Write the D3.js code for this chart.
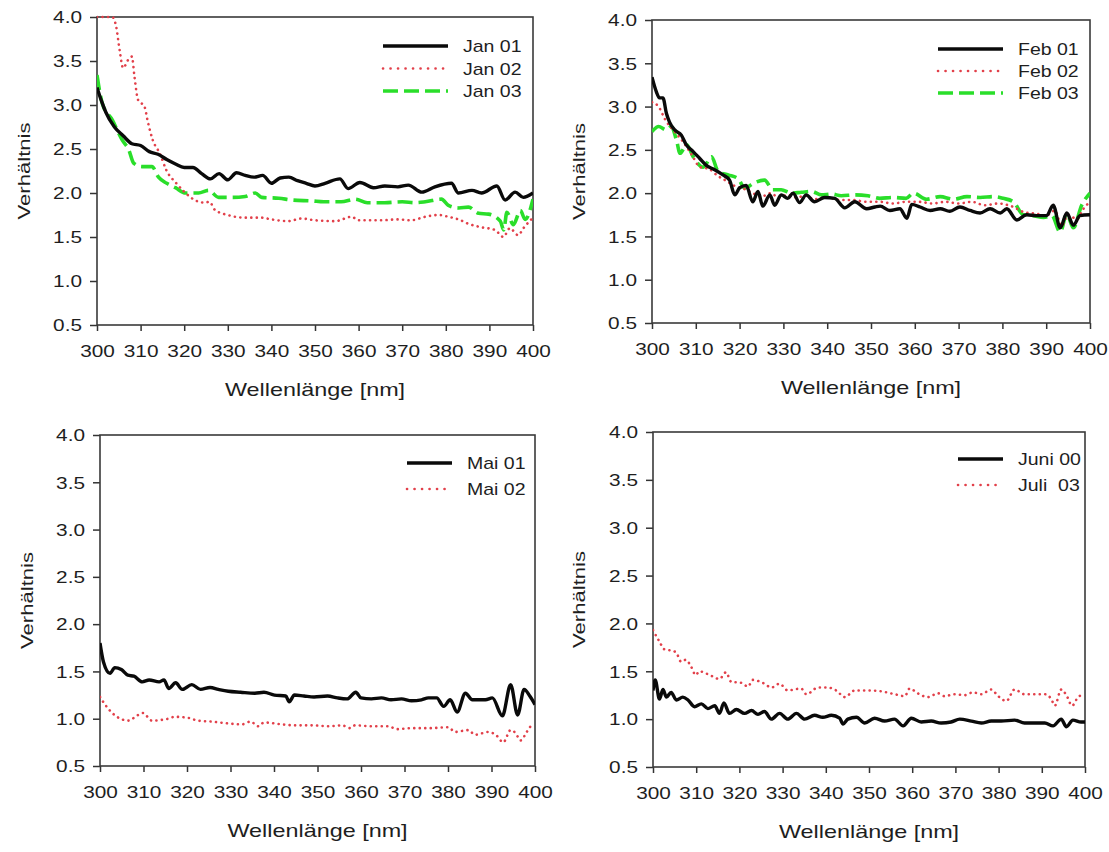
<!DOCTYPE html>
<html>
<head>
<meta charset="utf-8">
<script src="https://cdn.jsdelivr.net/npm/d3@7"></script>
<style>
  body { margin: 0; background: #fff; }
  text { font-family: "Liberation Sans", Arial, sans-serif; fill: #1e1e1e; }
</style>
</head>
<body>
<svg id="chart" width="1109" height="852"></svg>
<script>
// Axis ticks shared by all four panels
const wavelengthTicks = [300, 310, 320, 330, 340, 350, 360, 370, 380, 390, 400];
const ratioTicks = [0.5, 1.0, 1.5, 2.0, 2.5, 3.0, 3.5, 4.0];
const xTitle = "Wellenlänge [nm]";
const yTitle = "Verhältnis";

// Ratio spectra, [wavelength nm, ratio]
const jan01 = [[300,3.2],[301,3.05],[302,2.92],[304,2.75],[306,2.65],[308,2.56],[310,2.54],[312,2.47],[314,2.44],[316,2.38],[318,2.33],[320,2.29],[322,2.29],[324,2.22],[326,2.16],[328,2.22],[330,2.15],[332,2.23],[334,2.2],[336,2.18],[338,2.2],[340,2.11],[342,2.17],[344,2.18],[346,2.14],[348,2.11],[350,2.08],[352.3,2.11],[355.7,2.16],[357.6,2.05],[360.3,2.12],[363.4,2.06],[366,2.08],[369,2.07],[371.4,2.09],[374.5,2.01],[377.5,2.07],[381.3,2.11],[382.9,2.0],[386,2.03],[388.2,2.0],[391.7,2.08],[393.6,1.92],[395.9,2.01],[397.8,1.95],[400,2.0]];
const jan02 = [[300,4.0],[303.5,4.0],[304.4,3.89],[305.2,3.62],[306,3.42],[307.1,3.51],[308,3.55],[308.6,3.32],[309.4,3.06],[310.9,2.98],[311.7,2.8],[312.8,2.6],[314.4,2.45],[315.9,2.26],[318.2,2.11],[320.1,2.01],[322.4,1.92],[324.7,1.89],[325.8,1.9],[327,1.81],[330,1.75],[333.9,1.72],[337.7,1.72],[340,1.7],[343.8,1.68],[346.9,1.71],[350,1.69],[354.6,1.68],[358.4,1.73],[360,1.69],[365.2,1.69],[369,1.7],[372,1.69],[375.3,1.73],[378.3,1.75],[380.6,1.73],[382.9,1.7],[385.2,1.65],[388.2,1.61],[391.3,1.58],[393.2,1.5],[394.7,1.6],[396.6,1.52],[397.8,1.6],[400,1.72]];
const jan03 = [[300,3.34],[301.2,3.02],[303.5,2.83],[305.8,2.6],[307.3,2.49],[308.4,2.34],[310.3,2.3],[312.6,2.3],[314.1,2.18],[316,2.11],[318,2.06],[320.3,2.0],[323.3,2.0],[325.6,2.03],[327.9,1.95],[331,1.95],[334,1.96],[336.3,2.0],[337.8,1.95],[341.7,1.94],[344.8,1.92],[349.3,1.91],[352,1.9],[356,1.9],[359.2,1.93],[362,1.89],[366,1.89],[370,1.9],[373,1.89],[375.3,1.9],[379,1.93],[380.6,1.86],[383,1.83],[385.2,1.84],[387.5,1.77],[389.8,1.76],[392.5,1.68],[393.3,1.58],[394,1.78],[395.5,1.64],[397.1,1.8],[398.2,1.7],[400,1.93]];

const feb01 = [[300,3.34],[301,3.17],[301.7,3.1],[302.5,3.1],[303.3,2.92],[304,2.82],[305.2,2.73],[306.7,2.67],[307.8,2.56],[309.4,2.48],[310.9,2.4],[312.4,2.32],[314.3,2.27],[316.2,2.21],[317.7,2.15],[318.9,1.98],[320,2.06],[321.5,2.09],[323,1.9],[324.2,2.02],[325.3,1.85],[326.9,1.98],[328,1.86],[329.5,1.98],[331,1.94],[332.2,2.0],[333.7,1.89],[335.2,1.98],[337.1,1.9],[339.4,1.95],[341.7,1.94],[344,1.83],[346.3,1.9],[349,1.82],[350.9,1.84],[352.1,1.85],[354.3,1.8],[356.6,1.82],[358.2,1.71],[359.3,1.87],[361.2,1.84],[363.5,1.8],[365.8,1.82],[368,1.79],[370.3,1.84],[372.6,1.8],[374.9,1.77],[377.2,1.82],[379.5,1.77],[381,1.82],[383.3,1.69],[385.5,1.75],[387.8,1.74],[390.1,1.74],[391.6,1.86],[393.2,1.6],[394.7,1.77],[396.2,1.63],[397.7,1.74],[400,1.75]];
const feb02 = [[300,3.05],[301.5,3.0],[303,2.85],[305,2.72],[307,2.6],[309,2.45],[311,2.3],[313,2.28],[315,2.2],[317,2.14],[319,2.08],[321,2.05],[323,2.0],[325,1.96],[327,2.0],[329,1.95],[331,1.98],[333,1.95],[335,1.97],[337,1.93],[340,1.95],[343,1.92],[346,1.92],[349,1.9],[352,1.9],[355,1.88],[358,1.9],[361,1.9],[364,1.88],[367,1.9],[370,1.88],[373,1.9],[376,1.86],[379,1.88],[382,1.85],[385,1.78],[388,1.76],[390,1.74],[392,1.8],[393.5,1.62],[395,1.75],[397,1.7],[398.5,1.82],[400,1.9]];
const feb03 = [[300,2.71],[301.5,2.77],[303.3,2.73],[304.4,2.77],[305.6,2.61],[306.4,2.46],[307.9,2.56],[309.4,2.42],[311.7,2.3],[313.6,2.42],[315.1,2.25],[317.4,2.21],[319.6,2.17],[321.2,2.06],[323.4,2.12],[325.7,2.15],[327.6,2.04],[329.5,2.04],[331.8,2.0],[334.1,2.01],[336.4,2.02],[338.7,1.98],[341,1.99],[343.2,1.97],[346.3,1.98],[349.3,1.97],[352,1.94],[355,1.95],[358,1.94],[359.7,2.0],[362.7,1.93],[365.8,1.96],[368.8,1.93],[371.9,1.96],[374.9,1.95],[378,1.96],[380.2,1.94],[382.5,1.9],[384.8,1.75],[387,1.74],[389.4,1.72],[391.3,1.74],[393.2,1.55],[394.7,1.76],[396.2,1.6],[398.1,1.86],[400,2.0]];

const mai01 = [[300,1.8],[300.8,1.6],[302.3,1.48],[303.4,1.54],[304.9,1.52],[306.4,1.46],[307.8,1.45],[309.7,1.39],[311.3,1.41],[313.6,1.39],[314.7,1.41],[315.8,1.32],[317.4,1.38],[318.9,1.31],[321.1,1.36],[323.1,1.31],[325.3,1.33],[327.2,1.31],[329.5,1.29],[332.3,1.28],[335.6,1.27],[337.7,1.28],[340.1,1.25],[342.7,1.24],[343.5,1.18],[344.7,1.25],[346.9,1.24],[349.2,1.23],[352.3,1.24],[354.6,1.22],[356.8,1.21],[358.8,1.28],[360,1.22],[362.4,1.21],[364.7,1.22],[366.9,1.2],[369.3,1.21],[371.6,1.19],[373.9,1.2],[375.5,1.22],[377.4,1.22],[379,1.13],[380.5,1.2],[382.1,1.07],[384,1.27],[385.6,1.2],[388.6,1.2],[390.2,1.22],[392.5,1.03],[394.4,1.36],[396,1.04],[397.5,1.31],[398.8,1.24],[400,1.15]];
const mai02 = [[300,1.23],[302,1.1],[303.9,1.02],[306.6,0.98],[308.4,1.03],[309.9,1.06],[311.9,0.98],[315.7,1.0],[317.1,1.02],[320.2,1.01],[322.5,0.98],[325.5,0.97],[329.5,0.95],[332.6,0.94],[334.6,0.97],[336.4,0.92],[337.7,0.96],[341.8,0.94],[344.9,0.93],[348.7,0.93],[352.5,0.92],[355.6,0.93],[357.5,0.9],[358.6,0.93],[362.4,0.92],[366.3,0.92],[368.2,0.89],[371.6,0.9],[375.5,0.9],[380.1,0.91],[381.6,0.86],[384.7,0.88],[386.2,0.83],[389.3,0.86],[391.2,0.82],[392.7,0.75],[394.4,0.88],[395.5,0.85],[396.7,0.77],[398.1,0.86],[399.4,0.95]];

const juni00 = [[300,1.3],[300.5,1.41],[301.5,1.21],[302.3,1.31],[303.1,1.23],[304.2,1.28],[305.4,1.2],[306.9,1.23],[308.1,1.2],[309.6,1.13],[311.2,1.16],[312.7,1.11],[314.3,1.14],[315.4,1.06],[316.4,1.17],[317.7,1.06],[319.3,1.1],[321.2,1.06],[322.8,1.09],[324.3,1.05],[325.8,1.08],[327.4,1.0],[329.3,1.06],[331.2,1.0],[333.2,1.06],[335.1,1.0],[337.4,1.04],[339.3,1.02],[341.3,1.04],[343.2,1.01],[344,0.95],[345.1,1.0],[347.1,1.02],[349,0.96],[351.3,1.01],[353.6,0.98],[355.9,1.0],[357.9,0.93],[359.8,1.01],[362.1,0.97],[364.4,0.98],[366.7,0.96],[369,0.97],[371,1.0],[373.7,0.98],[376,0.96],[378.3,0.98],[380.6,0.98],[383.7,0.99],[386,0.96],[388.3,0.96],[390.7,0.96],[392.6,0.93],[394.5,1.0],[395.7,0.92],[397.2,0.99],[399.1,0.97],[400,0.97]];
const juli03 = [[300,1.93],[301.5,1.81],[302.6,1.73],[303.8,1.72],[305.3,1.7],[306.5,1.6],[307.6,1.62],[308.8,1.55],[309.9,1.46],[310.7,1.5],[312.7,1.47],[315.4,1.42],[316.9,1.49],[318.1,1.39],[320.4,1.38],[322,1.34],[323.1,1.41],[325.8,1.37],[327.4,1.33],[329.3,1.37],[331.2,1.3],[334.3,1.32],[335.5,1.26],[338.2,1.33],[340.5,1.33],[342.4,1.3],[344.4,1.23],[346.7,1.3],[349.8,1.3],[352.9,1.29],[356,1.26],[358.3,1.24],[359.4,1.32],[361.3,1.27],[363.6,1.23],[366,1.27],[367.5,1.24],[369.8,1.26],[372.1,1.25],[374.1,1.28],[376,1.26],[378.3,1.31],[379.9,1.24],[381.8,1.19],[383.7,1.31],[386,1.26],[388.3,1.26],[390.7,1.26],[392.2,1.21],[393,1.14],[394.5,1.31],[395.7,1.25],[397,1.14],[398.4,1.23],[399.9,1.26]];

// Which series go in which panel
const panelSeries = [
  [{ label: "Jan 01", data: jan01, style: "solid" },
   { label: "Jan 02", data: jan02, style: "dotted" },
   { label: "Jan 03", data: jan03, style: "dashed" }],
  [{ label: "Feb 01", data: feb01, style: "solid" },
   { label: "Feb 02", data: feb02, style: "dotted" },
   { label: "Feb 03", data: feb03, style: "dashed" }],
  [{ label: "Mai 01", data: mai01, style: "solid" },
   { label: "Mai 02", data: mai02, style: "dotted" }],
  [{ label: "Juni 00", data: juni00, style: "solid" },
   { label: "Juli  03", data: juli03, style: "dotted" }]
];

// Panel placement on the page
const frames = [
  { left: 97,  right: 533,  top: 17,  bottom: 325, legX: 383, legY: 46,  legGap: 22.5, legLen: 65, yTitleX: 24 },
  { left: 652, right: 1090, top: 20,  bottom: 323, legX: 938, legY: 49,  legGap: 22,   legLen: 65, yTitleX: 579 },
  { left: 100, right: 535,  top: 435, bottom: 766, legX: 407, legY: 463, legGap: 26,   legLen: 45, yTitleX: 27 },
  { left: 653, right: 1085, top: 432, bottom: 767, legX: 958, legY: 459, legGap: 26,   legLen: 45, yTitleX: 579 }
];

const styles = {
  solid:  { stroke: "#0a0a0a", width: 3.4, dash: null, cap: "butt" },
  dotted: { stroke: "#e2404a", width: 2.6, dash: "0.1,5.4", cap: "round" },
  dashed: { stroke: "#2ade2a", width: 3.6, dash: "15,6", cap: "butt" }
};

const SX = 1.3; // wide lettering
const svg = d3.select("#chart");

function wideText(g, x, y, str, size, anchor, rotate) {
  return g.append("text")
    .attr("transform", `translate(${x},${y})${rotate ? " rotate(-90)" : ""} scale(${SX},1)`)
    .attr("text-anchor", anchor)
    .style("font-size", size + "px")
    .text(str);
}

frames.forEach((f, i) => {
  const g = svg.append("g");
  const x = d3.scaleLinear().domain([300, 400]).range([f.left, f.right]);
  const y = d3.scaleLinear().domain([0.5, 4.0]).range([f.bottom, f.top]);

  const clipId = "clip" + i;
  g.append("clipPath").attr("id", clipId)
    .append("rect").attr("x", f.left).attr("y", f.top - 2)
    .attr("width", f.right - f.left).attr("height", f.bottom - f.top + 2);

  // axes
  const ax = g.append("g").attr("transform", `translate(0,${f.bottom})`)
    .call(d3.axisBottom(x).tickValues(wavelengthTicks).tickSize(6).tickSizeOuter(0).tickFormat(d3.format("d")));
  const ay = g.append("g").attr("transform", `translate(${f.left},0)`)
    .call(d3.axisLeft(y).tickValues(ratioTicks).tickSize(7).tickSizeOuter(0).tickFormat(d3.format(".1f")));
  [ax, ay].forEach(a => {
    a.select(".domain").remove();
    a.selectAll(".tick line").attr("stroke", "#333").attr("stroke-width", 1.5);
    a.selectAll("text").style("font-family", "'Liberation Sans', Arial, sans-serif")
      .style("font-size", "16px").attr("fill", "#1e1e1e");
  });
  ax.selectAll("text").attr("y", 0).attr("dy", 0)
    .attr("transform", `translate(0,32) scale(${SX},1)`);
  ay.selectAll("text").attr("x", 0).attr("dy", "0.36em")
    .attr("transform", `translate(-15,0) scale(${SX},1)`);

  // frame
  g.append("rect").attr("x", f.left).attr("y", f.top)
    .attr("width", f.right - f.left).attr("height", f.bottom - f.top)
    .attr("fill", "none").attr("stroke", "#3a3a3a").attr("stroke-width", 1.6);

  // titles
  wideText(g, (f.left + f.right) / 2, f.bottom + 71, xTitle, 18, "middle", false);
  wideText(g, f.yTitleX + 6, (f.top + f.bottom) / 2, yTitle, 17, "middle", true);

  // curves
  const line = d3.line().x(d => x(d[0])).y(d => y(d[1])).curve(d3.curveMonotoneX);
  const plot = g.append("g").attr("clip-path", `url(#${clipId})`);
  panelSeries[i].slice().reverse().forEach(s => {
    const st = styles[s.style];
    plot.append("path").datum(s.data)
      .attr("d", line)
      .attr("fill", "none")
      .attr("stroke", st.stroke)
      .attr("stroke-width", st.width)
      .attr("stroke-linejoin", "round")
      .attr("stroke-linecap", st.cap)
      .attr("stroke-dasharray", st.dash);
  });

  // legend
  panelSeries[i].forEach((s, k) => {
    const st = styles[s.style];
    const ly = f.legY + k * f.legGap;
    g.append("line").attr("x1", f.legX).attr("x2", f.legX + f.legLen)
      .attr("y1", ly).attr("y2", ly)
      .attr("stroke", st.stroke).attr("stroke-width", st.width)
      .attr("stroke-linecap", st.cap)
      .attr("stroke-dasharray", s.style === "dotted" ? "0.1,7.4" : st.dash);
    g.append("text")
      .attr("transform", `translate(${f.legX + f.legLen + 15},${ly + 6}) scale(1.22,1)`)
      .style("font-size", "16px")
      .style("white-space", "pre")
      .attr("xml:space", "preserve")
      .text(s.label);
  });
});
</script>
</body>
</html>
